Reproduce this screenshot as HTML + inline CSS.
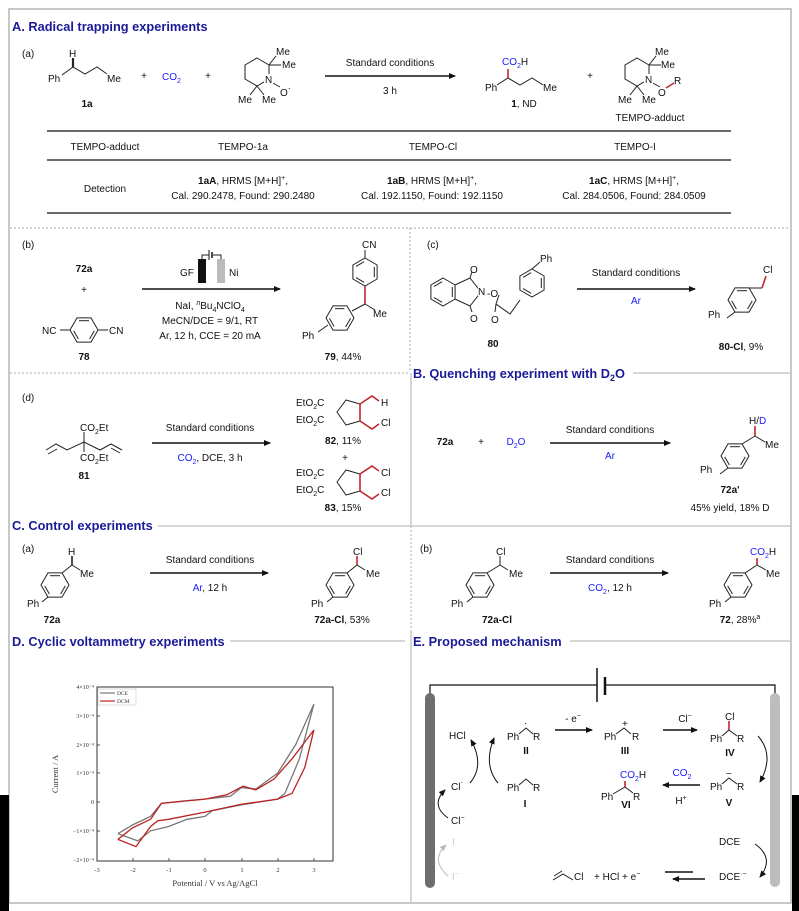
<!DOCTYPE html>
<html><head><meta charset="utf-8"><style>
html,body{margin:0;padding:0;background:#fff;}
svg{display:block;font-family:"Liberation Sans",Arial,sans-serif;}
.h{font-size:12.8px;font-weight:bold;fill:#1a1a99;}
.t{font-size:10px;fill:#111;}
.c{font-size:10px;fill:#111;text-anchor:middle;}
.b{font-weight:bold;}
.bl{fill:#1a1aff;}
.bd{stroke:#222;stroke-width:1;fill:none;}
.rd{stroke:#c0272d;stroke-width:1.6;fill:none;}
.ar{stroke:#111;stroke-width:1.6;}
</style></head><body>
<svg width="799" height="911" viewBox="0 0 799 911" xmlns="http://www.w3.org/2000/svg">
<defs>
<g id="hexF" class="bd"><polygon points="14,0 7,-12.1 -7,-12.1 -14,0 -7,12.1 7,12.1"/><line x1="-5" y1="-9.3" x2="5" y2="-9.3"/><line x1="-10.3" y1="0.9" x2="-5.6" y2="9"/><line x1="5.6" y1="9" x2="10.3" y2="0.9"/></g>
<g id="hexP" class="bd"><polygon points="0,-14 12.1,-7 12.1,7 0,14 -12.1,7 -12.1,-7"/><line x1="9.3" y1="-5" x2="9.3" y2="5"/><line x1="-0.9" y1="10.3" x2="-9" y2="5.6"/><line x1="-9" y1="-5.6" x2="-0.9" y2="-10.3"/></g>
<marker id="ah" markerWidth="8" markerHeight="8" refX="6" refY="4" orient="auto" markerUnits="userSpaceOnUse"><path d="M0,1 L7,4 L0,7 Z" fill="#111"/></marker>
<marker id="ahg" markerWidth="8" markerHeight="8" refX="6" refY="4" orient="auto" markerUnits="userSpaceOnUse"><path d="M0,1 L7,4 L0,7 Z" fill="#bbb"/></marker>
</defs>

<rect x="9" y="9" width="782" height="894" fill="none" stroke="#c8c8c8" stroke-width="2"/>
<rect x="0" y="795" width="9" height="116" fill="#000"/>
<rect x="792" y="795" width="7" height="116" fill="#000"/>
<line x1="10" y1="228" x2="790" y2="228" stroke="#aaa" stroke-dasharray="2,2"/>
<line x1="410" y1="228" x2="410" y2="372" stroke="#aaa" stroke-dasharray="2,2"/>
<line x1="10" y1="373" x2="410" y2="373" stroke="#aaa" stroke-dasharray="2,2"/>
<line x1="411" y1="373" x2="411" y2="528" stroke="#c8c8c8" stroke-width="1.5"/>
<line x1="411" y1="530" x2="411" y2="630" stroke="#aaa" stroke-dasharray="2,2"/>
<line x1="411" y1="630" x2="411" y2="903" stroke="#c8c8c8" stroke-width="1.5"/>
<line x1="633" y1="373" x2="790" y2="373" stroke="#c8c8c8" stroke-width="1.5"/>
<line x1="158" y1="526" x2="790" y2="526" stroke="#c8c8c8" stroke-width="1.5"/>
<line x1="230" y1="641" x2="405" y2="641" stroke="#c8c8c8" stroke-width="1.5"/>
<line x1="570" y1="641" x2="790" y2="641" stroke="#c8c8c8" stroke-width="1.5"/>

<!-- A -->
<text class="h" x="12" y="31">A. Radical trapping experiments</text>
<text class="t" x="22" y="57">(a)</text>
<text class="t" x="48" y="82">Ph</text>
<polyline class="bd" points="62,75 73,67 85,74 97,67 107,74"/>
<line x1="73" y1="67" x2="73" y2="58" stroke="#222" stroke-width="2.2"/>
<text class="t" x="69" y="57">H</text>
<text class="t" x="107" y="82">Me</text>
<text class="c b" x="87" y="107">1a</text>
<text class="c" x="144" y="79">+</text>
<text class="t bl" x="162" y="80">CO<tspan font-size="7" dy="3">2</tspan></text>
<text class="c" x="208" y="79">+</text>
<polygon class="bd" points="257,58 269,65 269,79 257,86 245,79 245,65"/>
<line class="bd" x1="269" y1="65" x2="276" y2="56"/><line class="bd" x1="269" y1="65" x2="281" y2="65"/>
<line class="bd" x1="257" y1="86" x2="250" y2="95"/><line class="bd" x1="257" y1="86" x2="264" y2="95"/>
<line class="bd" x1="271" y1="82" x2="280" y2="87"/>
<text class="t" x="276" y="55">Me</text><text class="t" x="282" y="68">Me</text>
<rect x="264" y="74" width="9" height="10" fill="#fff"/><text class="t" x="265" y="83">N</text>
<text class="t" x="280" y="96">O<tspan dy="-5" font-size="9">·</tspan></text>
<text class="t" x="238" y="103">Me</text><text class="t" x="262" y="103">Me</text>
<line class="ar" x1="325" y1="76" x2="455" y2="76" marker-end="url(#ah)"/>
<text class="c" x="390" y="66">Standard conditions</text>
<text class="c" x="390" y="94">3 h</text>
<text class="t" x="485" y="91">Ph</text>
<polyline class="bd" points="497,85 508,78 520,85 532,78 543,85"/>
<line class="rd" x1="508" y1="78" x2="508" y2="69"/>
<text class="t" x="502" y="65"><tspan class="bl">CO<tspan font-size="7" dy="3">2</tspan></tspan><tspan dy="-3">H</tspan></text>
<text class="t" x="543" y="91">Me</text>
<text class="c" x="524" y="107"><tspan class="b">1</tspan>, ND</text>
<text class="c" x="590" y="79">+</text>
<polygon class="bd" points="637,58 649,65 649,79 637,86 625,79 625,65"/>
<line class="bd" x1="649" y1="65" x2="656" y2="56"/><line class="bd" x1="649" y1="65" x2="661" y2="65"/>
<line class="bd" x1="637" y1="86" x2="630" y2="95"/><line class="bd" x1="637" y1="86" x2="644" y2="95"/>
<line class="bd" x1="651" y1="82" x2="660" y2="87"/><line class="rd" x1="666" y1="88" x2="674" y2="83"/>
<text class="t" x="655" y="55">Me</text><text class="t" x="661" y="68">Me</text>
<rect x="644" y="74" width="9" height="10" fill="#fff"/><text class="t" x="645" y="83">N</text>
<text class="t" x="658" y="96">O</text><text class="t" x="674" y="84">R</text>
<text class="t" x="618" y="103">Me</text><text class="t" x="642" y="103">Me</text>
<text class="c" x="650" y="121">TEMPO-adduct</text>
<line x1="47" y1="131" x2="731" y2="131" stroke="#111" stroke-width="1.2"/>
<line x1="47" y1="160" x2="731" y2="160" stroke="#111" stroke-width="1.2"/>
<line x1="47" y1="213" x2="731" y2="213" stroke="#111" stroke-width="1.2"/>
<text class="c" x="105" y="150">TEMPO-adduct</text>
<text class="c" x="243" y="150">TEMPO-1a</text>
<text class="c" x="433" y="150">TEMPO-Cl</text>
<text class="c" x="635" y="150">TEMPO-I</text>
<text class="c" x="105" y="192">Detection</text>
<text class="c" x="243" y="184"><tspan class="b">1aA</tspan>, HRMS [M+H]<tspan font-size="7" dy="-4">+</tspan><tspan dy="4">,</tspan></text>
<text class="c" x="243" y="199">Cal. 290.2478, Found: 290.2480</text>
<text class="c" x="432" y="184"><tspan class="b">1aB</tspan>, HRMS [M+H]<tspan font-size="7" dy="-4">+</tspan><tspan dy="4">,</tspan></text>
<text class="c" x="432" y="199">Cal. 192.1150, Found: 192.1150</text>
<text class="c" x="634" y="184"><tspan class="b">1aC</tspan>, HRMS [M+H]<tspan font-size="7" dy="-4">+</tspan><tspan dy="4">,</tspan></text>
<text class="c" x="634" y="199">Cal. 284.0506, Found: 284.0509</text>

<!-- (b) -->
<text class="t" x="22" y="248">(b)</text>
<text class="c b" x="84" y="272">72a</text>
<text class="c" x="84" y="293">+</text>
<use href="#hexF" x="84" y="330"/>
<line class="bd" x1="70" y1="330" x2="60" y2="330"/><line class="bd" x1="98" y1="330" x2="108" y2="330"/>
<text class="t" x="42" y="334">NC</text><text class="t" x="109" y="334">CN</text>
<text class="c b" x="84" y="360">78</text>
<text class="t" x="180" y="276">GF</text>
<rect x="198" y="259" width="8" height="24" fill="#111"/>
<rect x="217" y="259" width="8" height="24" fill="#bbb"/>
<polyline class="bd" points="202,259 202,255 209,255"/><polyline class="bd" points="213,255 221,255 221,259"/>
<line x1="209" y1="250" x2="209" y2="260" stroke="#111"/><line x1="212" y1="252" x2="212" y2="258" stroke="#111" stroke-width="1.5"/>
<text class="t" x="229" y="276">Ni</text>
<line class="ar" x1="142" y1="289" x2="280" y2="289" marker-end="url(#ah)"/>
<text class="c" x="210" y="309">NaI, <tspan font-style="italic" font-size="7" dy="-4">n</tspan><tspan dy="4">Bu</tspan><tspan font-size="7" dy="3">4</tspan><tspan dy="-3">NClO</tspan><tspan font-size="7" dy="3">4</tspan></text>
<text class="c" x="210" y="324">MeCN/DCE = 9/1, RT</text>
<text class="c" x="210" y="339">Ar, 12 h, CCE = 20 mA</text>
<text class="t" x="362" y="248">CN</text>
<use href="#hexP" x="365" y="272"/>
<line class="bd" x1="365" y1="258" x2="365" y2="250"/>
<line class="rd" x1="365" y1="286" x2="365" y2="304"/>
<line class="bd" x1="365" y1="304" x2="375" y2="310"/>
<text class="t" x="373" y="317">Me</text>
<g transform="translate(340,318) rotate(30)"><use href="#hexP"/></g>
<line class="bd" x1="365" y1="304" x2="352" y2="311"/>
<line class="bd" x1="328" y1="325" x2="318" y2="332"/>
<text class="t" x="302" y="339">Ph</text>
<text class="c" x="343" y="360"><tspan class="b">79</tspan>, 44%</text>

<!-- (c) -->
<text class="t" x="427" y="248">(c)</text>
<use href="#hexP" x="443" y="292"/>
<polyline class="bd" points="455,285 470,278 481,292 470,306 455,299"/>
<line class="bd" x1="470" y1="278" x2="472" y2="272"/><line class="bd" x1="470" y1="306" x2="472" y2="312"/>
<text class="t" x="470" y="273">O</text><text class="t" x="470" y="322">O</text>
<rect x="478" y="286" width="9" height="10" fill="#fff"/><text class="t" x="478" y="295">N</text>
<text class="t" x="487" y="297">-O</text>
<polyline class="bd" points="499,295 496,304 510,314 520,300"/>
<line class="bd" x1="496" y1="304" x2="495" y2="312"/><text class="t" x="491" y="323">O</text>
<use href="#hexP" x="532" y="283"/>
<line class="bd" x1="532" y1="269" x2="540" y2="262"/>
<text class="t" x="540" y="262">Ph</text>
<text class="c b" x="493" y="347">80</text>
<line class="ar" x1="577" y1="289" x2="695" y2="289" marker-end="url(#ah)"/>
<text class="c" x="636" y="276">Standard conditions</text>
<text class="c bl" x="636" y="304">Ar</text>
<use href="#hexF" x="742" y="300"/>
<line class="bd" x1="749" y1="288" x2="762" y2="288"/>
<line class="rd" x1="762" y1="288" x2="766" y2="276"/>
<text class="t" x="763" y="273">Cl</text>
<line class="bd" x1="735" y1="312" x2="727" y2="318"/>
<text class="t" x="708" y="318">Ph</text>
<text class="c" x="741" y="350"><tspan class="b">80-Cl</tspan>, 9%</text>

<!-- (d) -->
<text class="t" x="22" y="401">(d)</text>
<polyline class="bd" points="46,450 56,444 67,450 84,442 100,450 111,444 122,450"/>
<line class="bd" x1="48" y1="454" x2="57" y2="449"/><line class="bd" x1="111" y1="448" x2="120" y2="453"/>
<line class="bd" x1="84" y1="432" x2="84" y2="452"/>
<text class="t" x="80" y="431">CO<tspan font-size="7" dy="3">2</tspan><tspan dy="-3">Et</tspan></text>
<text class="t" x="80" y="461">CO<tspan font-size="7" dy="3">2</tspan><tspan dy="-3">Et</tspan></text>
<text class="c b" x="84" y="479">81</text>
<line class="ar" x1="152" y1="443" x2="270" y2="443" marker-end="url(#ah)"/>
<text class="c" x="210" y="431">Standard conditions</text>
<text class="c" x="210" y="461"><tspan class="bl">CO<tspan font-size="7" dy="3">2</tspan></tspan><tspan dy="-3">, DCE, 3 h</tspan></text>
<g>
<text class="t" x="296" y="406">EtO<tspan font-size="7" dy="3">2</tspan><tspan dy="-3">C</tspan></text>
<text class="t" x="296" y="423">EtO<tspan font-size="7" dy="3">2</tspan><tspan dy="-3">C</tspan></text>
<polygon class="bd" points="337,412 346,400 360,404 360,421 346,425"/>
<line class="rd" x1="360" y1="404" x2="360" y2="421"/>
<polyline class="rd" points="360,404 372,396 379,401"/>
<polyline class="rd" points="360,421 372,429 379,424"/>
<text class="t" x="381" y="406">H</text><text class="t" x="381" y="426">Cl</text>
<text class="c" x="343" y="444"><tspan class="b">82</tspan>, 11%</text>
<text class="c" x="345" y="461">+</text>
</g>
<g transform="translate(0,70)">
<text class="t" x="296" y="406">EtO<tspan font-size="7" dy="3">2</tspan><tspan dy="-3">C</tspan></text>
<text class="t" x="296" y="423">EtO<tspan font-size="7" dy="3">2</tspan><tspan dy="-3">C</tspan></text>
<polygon class="bd" points="337,412 346,400 360,404 360,421 346,425"/>
<line class="rd" x1="360" y1="404" x2="360" y2="421"/>
<polyline class="rd" points="360,404 372,396 379,401"/>
<polyline class="rd" points="360,421 372,429 379,424"/>
<text class="t" x="381" y="406">Cl</text><text class="t" x="381" y="426">Cl</text>
<text class="c" x="343" y="441"><tspan class="b">83</tspan>, 15%</text>
</g>

<!-- B -->
<text class="h" x="413" y="378">B. Quenching experiment with D<tspan font-size="9" dy="3">2</tspan><tspan dy="-3">O</tspan></text>
<text class="c b" x="445" y="445">72a</text>
<text class="c" x="481" y="445">+</text>
<text class="c bl" x="516" y="445">D<tspan font-size="7" dy="3">2</tspan><tspan dy="-3">O</tspan></text>
<line class="ar" x1="550" y1="443" x2="670" y2="443" marker-end="url(#ah)"/>
<text class="c" x="610" y="433">Standard conditions</text>
<text class="c bl" x="610" y="459">Ar</text>
<use href="#hexF" x="735" y="456"/>
<line class="bd" x1="742" y1="444" x2="755" y2="436"/>
<line class="rd" x1="755" y1="436" x2="755" y2="426"/>
<line class="bd" x1="755" y1="436" x2="765" y2="442"/>
<text class="t" x="749" y="424">H/<tspan class="bl">D</tspan></text>
<text class="t" x="765" y="448">Me</text>
<line class="bd" x1="728" y1="468" x2="720" y2="474"/>
<text class="t" x="700" y="473">Ph</text>
<text class="c b" x="730" y="493">72a'</text>
<text class="c" x="730" y="511">45% yield, 18% D</text>

<!-- C -->
<text class="h" x="12" y="530">C. Control experiments</text>
<text class="t" x="22" y="552">(a)</text>
<use href="#hexF" x="55" y="585"/>
<line class="bd" x1="62" y1="573" x2="72" y2="565"/><line x1="72" y1="565" x2="72" y2="556" stroke="#222" stroke-width="1.6"/>
<line class="bd" x1="72" y1="565" x2="80" y2="570"/>
<text class="t" x="68" y="555">H</text><text class="t" x="80" y="577">Me</text>
<line class="bd" x1="48" y1="597" x2="42" y2="602"/><text class="t" x="27" y="607">Ph</text>
<text class="c b" x="52" y="623">72a</text>
<line class="ar" x1="150" y1="573" x2="268" y2="573" marker-end="url(#ah)"/>
<text class="c" x="210" y="563">Standard conditions</text>
<text class="c" x="210" y="591"><tspan class="bl">Ar</tspan>, 12 h</text>
<use href="#hexF" x="340" y="585"/>
<line class="bd" x1="347" y1="573" x2="357" y2="565"/><line class="rd" x1="357" y1="565" x2="357" y2="556"/>
<line class="bd" x1="357" y1="565" x2="365" y2="570"/>
<text class="t" x="353" y="555">Cl</text><text class="t" x="366" y="577">Me</text>
<line class="bd" x1="333" y1="597" x2="327" y2="602"/><text class="t" x="311" y="607">Ph</text>
<text class="c" x="342" y="623"><tspan class="b">72a-Cl</tspan>, 53%</text>
<text class="t" x="420" y="552">(b)</text>
<use href="#hexF" x="480" y="585"/>
<line class="bd" x1="487" y1="573" x2="500" y2="565"/><line class="bd" x1="500" y1="565" x2="500" y2="556"/>
<line class="bd" x1="500" y1="565" x2="508" y2="570"/>
<text class="t" x="496" y="555">Cl</text><text class="t" x="509" y="577">Me</text>
<line class="bd" x1="473" y1="597" x2="467" y2="602"/><text class="t" x="451" y="607">Ph</text>
<text class="c b" x="497" y="623">72a-Cl</text>
<line class="ar" x1="550" y1="573" x2="668" y2="573" marker-end="url(#ah)"/>
<text class="c" x="610" y="563">Standard conditions</text>
<text class="c" x="610" y="591"><tspan class="bl">CO<tspan font-size="7" dy="3">2</tspan></tspan><tspan dy="-3">, 12 h</tspan></text>
<use href="#hexF" x="738" y="585"/>
<line class="bd" x1="745" y1="573" x2="757" y2="565"/><line class="rd" x1="757" y1="565" x2="757" y2="558"/>
<line class="bd" x1="757" y1="565" x2="766" y2="570"/>
<text class="t" x="750" y="555"><tspan class="bl">CO<tspan font-size="7" dy="3">2</tspan></tspan><tspan dy="-3">H</tspan></text>
<text class="t" x="766" y="577">Me</text>
<line class="bd" x1="731" y1="597" x2="725" y2="602"/><text class="t" x="709" y="607">Ph</text>
<text class="c" x="740" y="623"><tspan class="b">72</tspan>, 28%<tspan font-size="7" dy="-4">a</tspan></text>

<!-- D -->
<text class="h" x="12" y="646">D. Cyclic voltammetry experiments</text>
<g font-family="Liberation Serif,serif">
<rect x="97" y="687" width="236" height="174" fill="none" stroke="#333" stroke-width="1"/>
<g font-size="6" fill="#333" text-anchor="end">
<text x="94" y="689">4×10⁻⁴</text><text x="94" y="718">3×10⁻⁴</text><text x="94" y="747">2×10⁻⁴</text>
<text x="94" y="775">1×10⁻⁴</text><text x="94" y="804">0</text><text x="94" y="833">−1×10⁻⁴</text><text x="94" y="862">−2×10⁻⁴</text>
</g>
<g font-size="6.5" fill="#333" text-anchor="middle">
<text x="97" y="872">-3</text><text x="133" y="872">-2</text><text x="169" y="872">-1</text><text x="205" y="872">0</text>
<text x="242" y="872">1</text><text x="278" y="872">2</text><text x="314" y="872">3</text>
</g>
<g stroke="#333" stroke-width="0.8">
<line x1="97" y1="716" x2="100" y2="716"/><line x1="97" y1="745" x2="100" y2="745"/><line x1="97" y1="773" x2="100" y2="773"/><line x1="97" y1="802" x2="100" y2="802"/><line x1="97" y1="831" x2="100" y2="831"/>
<line x1="133" y1="861" x2="133" y2="858"/><line x1="169" y1="861" x2="169" y2="858"/><line x1="205" y1="861" x2="205" y2="858"/><line x1="242" y1="861" x2="242" y2="858"/><line x1="278" y1="861" x2="278" y2="858"/><line x1="314" y1="861" x2="314" y2="858"/>
</g>
<text x="215" y="886" font-size="8.5" fill="#333" text-anchor="middle">Potential / V vs Ag/AgCl</text>
<text x="58" y="774" font-size="8.5" fill="#333" text-anchor="middle" transform="rotate(-90 58 774)">Current / A</text>
<rect x="98" y="689" width="38" height="16" fill="#fff" stroke="#bbb" stroke-width="0.5"/>
<line x1="100" y1="693" x2="115" y2="693" stroke="#777" stroke-width="1.2"/><text x="117" y="695" font-size="5.5" fill="#333">DCE</text>
<line x1="100" y1="701" x2="115" y2="701" stroke="#b22" stroke-width="1.2"/><text x="117" y="703" font-size="5.5" fill="#333">DCM</text>
</g>
<polyline fill="none" stroke="#777" stroke-width="1.3" points="117.9,833.7 132.4,825 150.6,816.4 161.4,803.4 186.9,800.6 205,799.1 230.4,796.2 241.3,787.6 255.8,789 277.6,773.2 295.8,744.4 313.9,704.1 299.4,758.8 284.9,793.4 277.6,799.1 241.3,804.9 212.3,810.6 205,816.4 186.9,819.3 168.7,826.5 150.6,830.8 137.8,840.9 117.9,833.7"/>
<polyline fill="none" stroke="#b22" stroke-width="1.3" points="117.9,839.4 132.4,827.9 150.6,819.3 161.4,803.4 205,799.1 226.8,794.8 243.1,786.2 255.8,789.9 274,779 292.1,758.8 313.9,730 304.8,767.4 292.1,793.4 277.6,799.1 241.3,804.3 205,812.1 168.7,819.3 157.8,820.7 150.6,826.5 136,846.6 117.9,839.4"/>

<!-- E -->
<text class="h" x="413" y="646">E. Proposed mechanism</text>
<polyline fill="none" stroke="#111" stroke-width="1.2" points="430,697 430,685 597,685"/>
<polyline fill="none" stroke="#111" stroke-width="1.2" points="605,685 775,685 775,697"/>
<line x1="597" y1="668" x2="597" y2="702" stroke="#111" stroke-width="1.5"/>
<line x1="605" y1="677" x2="605" y2="695" stroke="#111" stroke-width="2.5"/>
<rect x="425" y="693" width="10" height="195" rx="5" fill="#6e6e6e"/>
<rect x="770" y="693" width="10" height="194" rx="5" fill="#bdbdbd"/>
<text class="t" x="449" y="739">HCl</text>
<text class="t" x="507" y="740">Ph</text><polyline class="bd" points="519,734 526,728 533,734"/><text class="t" x="533" y="740">R</text><text class="t" x="524" y="726">·</text>
<text class="c b" x="526" y="754">II</text>
<line class="ar" x1="555" y1="730" x2="592" y2="730" marker-end="url(#ah)"/>
<text class="c" x="573" y="722">- e<tspan font-size="7" dy="-4">−</tspan></text>
<text class="t" x="604" y="740">Ph</text><polyline class="bd" points="616,734 624,728 631,734"/><text class="t" x="632" y="740">R</text><text class="t" x="622" y="727" font-size="8">+</text>
<text class="c b" x="625" y="754">III</text>
<line class="ar" x1="663" y1="730" x2="697" y2="730" marker-end="url(#ah)"/>
<text class="c" x="685" y="722">Cl<tspan font-size="7" dy="-4">−</tspan></text>
<text class="t" x="710" y="742">Ph</text><polyline class="bd" points="722,736 729,730 737,736"/><line class="rd" x1="729" y1="730" x2="729" y2="721"/>
<text class="t" x="725" y="720">Cl</text><text class="t" x="737" y="742">R</text>
<text class="c b" x="730" y="756">IV</text>
<path d="M758,736 Q775,755 760,782" fill="none" stroke="#111" stroke-width="1" marker-end="url(#ah)"/>
<text class="t" x="710" y="790">Ph</text><polyline class="bd" points="722,784 729,778 737,784"/><text class="t" x="737" y="790">R</text><text class="t" x="726" y="777">−</text>
<text class="c b" x="729" y="806">V</text>
<line class="ar" x1="700" y1="785" x2="663" y2="785" marker-end="url(#ah)"/>
<text class="c bl" x="682" y="776">CO<tspan font-size="7" dy="3">2</tspan></text>
<text class="c" x="681" y="804">H<tspan font-size="7" dy="-4">+</tspan></text>
<text class="t" x="620" y="778"><tspan class="bl">CO<tspan font-size="7" dy="3">2</tspan></tspan><tspan dy="-3">H</tspan></text>
<text class="t" x="601" y="800">Ph</text><polyline class="bd" points="613,794 625,787 633,793"/><line class="rd" x1="625" y1="787" x2="625" y2="781"/><text class="t" x="633" y="800">R</text>
<text class="c b" x="626" y="808">VI</text>
<text class="t" x="507" y="791">Ph</text><polyline class="bd" points="519,785 526,779 533,785"/><text class="t" x="533" y="791">R</text>
<text class="c b" x="525" y="807">I</text>
<text class="t" x="451" y="790">Cl<tspan font-size="8" dy="-5">·</tspan></text>
<text class="t" x="451" y="824">Cl<tspan font-size="7" dy="-4">−</tspan></text>
<path d="M470,783 Q485,765 471,740" fill="none" stroke="#111" stroke-width="1" marker-end="url(#ah)"/>
<path d="M498,783 Q483,765 494,738" fill="none" stroke="#111" stroke-width="1" marker-end="url(#ah)"/>
<path d="M448,818 Q430,805 445,790" fill="none" stroke="#111" stroke-width="1" marker-end="url(#ah)"/>
<text class="t" x="452" y="845" style="fill:#ccc">I<tspan font-size="7" dy="-4">·</tspan></text>
<text class="t" x="452" y="880" style="fill:#ccc">I<tspan font-size="7" dy="-4">−</tspan></text>
<path d="M448,876 Q430,860 446,845" fill="none" stroke="#bbb" stroke-width="1" marker-end="url(#ahg)"/>
<text class="t" x="719" y="845">DCE</text>
<text class="t" x="719" y="880">DCE<tspan font-size="7" dy="-4">·−</tspan></text>
<path d="M755,844 Q775,858 760,877" fill="none" stroke="#111" stroke-width="1" marker-end="url(#ah)"/>
<line x1="705" y1="879" x2="673" y2="879" stroke="#111" stroke-width="1.5" marker-end="url(#ah)"/>
<line x1="665" y1="872" x2="693" y2="872" stroke="#111" stroke-width="1.5"/>
<polyline class="bd" points="553,880 563,874 573,880"/><line class="bd" x1="554" y1="876" x2="562" y2="871"/>
<text class="t" x="574" y="880">Cl</text>
<text class="t" x="594" y="880">+ HCl + e<tspan font-size="7" dy="-4">−</tspan></text>
</svg>
</body></html>
